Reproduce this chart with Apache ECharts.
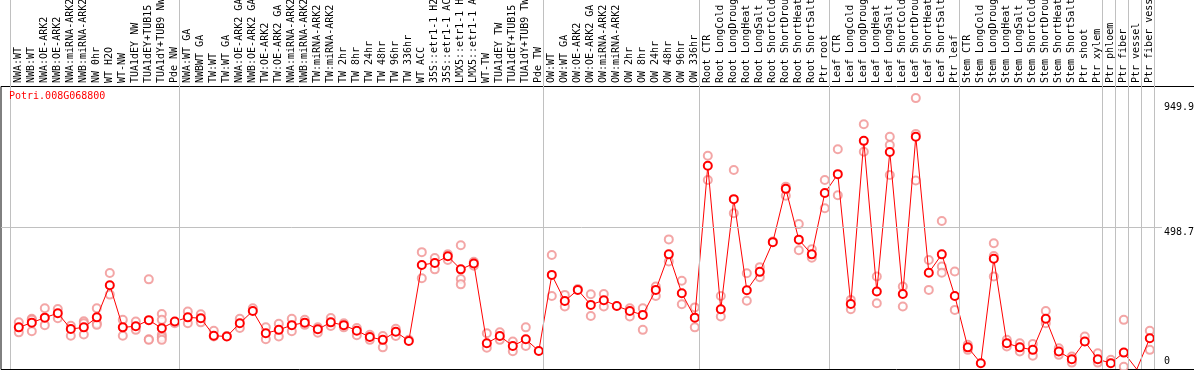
<!DOCTYPE html>
<html>
<head>
<meta charset="utf-8">
<script src="https://cdn.jsdelivr.net/npm/echarts@6/dist/echarts.min.js"></script>
<style>
html,body{margin:0;padding:0;background:#fff;}
#chart{width:1194px;height:370px;}
</style>
</head>
<body>
<div id="chart"></div>
<script>
const geneName = 'Potri.008G068800';

const categories = [
  'NWA:WT','NWB:WT','NWA:OE-ARK2','NWB:OE-ARK2','NWA:miRNA-ARK2','NWB:miRNA-ARK2','NW 0hr','WT H2O','WT-NW','TUA1dEY NW','TUA1dEY+TUB15 NW','TUA1dY+TUB9 NW','Pde NW',
  'NWA:WT GA','NWBWT GA','TW:WT','TW:WT GA','NWA:OE-ARK2 GA','NWB:OE-ARK2 GA','TW:OE-ARK2','TW:OE-ARK2 GA','NWA:miRNA-ARK2 GA','NWB:miRNA-ARK2 GA','TW:miRNA-ARK2','TW:miRNA-ARK2 GA','TW 2hr','TW 8hr','TW 24hr','TW 48hr','TW 96hr','TW 336hr','WT ACC','35S::etr1-1 H2O','35S::etr1-1 ACC','LMX5::etr1-1 H2O','LMX5::etr1-1 ACC','WT-TW','TUA1dEY TW','TUA1dEY+TUB15 TW','TUA1dY+TUB9 TW','Pde TW',
  'OW:WT','OW:WT GA','OW:OE-ARK2','OW:OE-ARK2 GA','OW:miRNA-ARK2','OW:miRNA-ARK2 GA','OW 2hr','OW 8hr','OW 24hr','OW 48hr','OW 96hr','OW 336hr',
  'Root CTR','Root LongCold','Root LongDrought','Root LongHeat','Root LongSalt','Root ShortCold','Root ShortDrought','Root ShortHeat','Root ShortSalt','Ptr root',
  'Leaf CTR','Leaf LongCold','Leaf LongDrought','Leaf LongHeat','Leaf LongSalt','Leaf ShortCold','Leaf ShortDrought','Leaf ShortHeat','Leaf ShortSalt','Ptr leaf',
  'Stem CTR','Stem LongCold','Stem LongDrought','Stem LongHeat','Stem LongSalt','Stem ShortCold','Stem ShortDrought','Stem ShortHeat','Stem ShortSalt','Ptr shoot','Ptr xylem',
  'Ptr phloem','Ptr fiber','Ptr vessel','Ptr fiber vessel'
];

const meanValues = [
  139,156,174,190,133,139,175,291,139,143,165,136,160,
  175,172,109,106,154,198,118,130,147,156,132,157,147,127,104,94,123,90,364,371,395,348,369,82,108,72,96,54,
  328,234,274,220,237,216,198,184,274,402,262,174,
  721,204,601,273,339,446,638,455,402,623,
  691,223,811,268,771,259,826,336,402,252,
  67,10,386,82,67,58,170,52,24,88,24,
  10,48,-12,100
];

const replicateValues = [
  [157,121],[170,166,125],[208,147],[205,172],[145,109],[161,154,113],[208,154,148],[335,257],[166,109],[160,130],[312,96,94],[187,166,112,103,94],[154],
  [196,154],[186,157],[127,106],[108],[170,137],[208],[139,96],[152,106],[170,125],[166,148],[139,120],[173,144],[154,139],[137,111],[112,94],[108,67],[134,108],[94],[410,316],[389,348],[402,382],[435,313,294],[375,361],[118,66],[121,94],[88,53],[139,72],[],
  [400,252],[256,214],[277],[258,180],[259,214],[],[208,178],[208,130],[286,252],[456,376],[307,222],[211,139],
  [757,670],[252,178],[706,550],[334,235],[356,320],[448],[646,613],[511,417],[420,390],[670,568],
  [781,615],[238,204],[871,772],[322,226],[826,796,688],[286,214],[965,836,668],[382,274],[522,358,336],[340,202],
  [76,58],[],[442,396,322],[94,70],[82,52],[79,37],[198,154],[64,40],[34,12],[106],[46,12],
  [22],[166,-3],[],[127,58]
];

const groupBoundaries = [0,13,41,53,63,73,84,85,86,87,88];
const yTopTicks = [498.7, 949.9];
const yBottomTicks = [0];
const gridLineValues = [498.7];
const yMin = -11, yMax = 1005;

const replicatePoints = [];
replicateValues.forEach((reps, i) => reps.forEach(v => replicatePoints.push([i, v])));

const FONT = 'DejaVu Sans Mono';
const chart = echarts.init(document.getElementById('chart'), null, {renderer: 'canvas'});

const option = {
  animation: false,
  backgroundColor: '#ffffff',
  title: {
    text: geneName, left: 9, top: 91, padding: 0,
    textStyle: {fontFamily: FONT, fontSize: 10, fontWeight: 'normal', color: '#ff0000'}
  },
  grid: [
    {left: 1, top: 86.5, right: -20, bottom: 0.5, show: true, borderColor: '#000', borderWidth: 1, backgroundColor: 'transparent', outerBoundsMode: 'none', containLabel: false},
    {left: 10.5, top: 0, right: 39.5, bottom: 1, outerBoundsMode: 'none', containLabel: false},
    {left: 1, top: 87, right: 32, bottom: 1, outerBoundsMode: 'none', containLabel: false},
    {left: 12.3, top: 87, right: 37.7, bottom: 1, outerBoundsMode: 'none', containLabel: false}
  ],
  xAxis: [
    {gridIndex: 0, type: 'value', show: false},
    {gridIndex: 1, type: 'value', min: 0, max: categories.length, show: false},
    {gridIndex: 2, type: 'value', min: 0, max: 1, show: false},
    {gridIndex: 3, type: 'category', position: 'top', data: categories, boundaryGap: true,
     axisLine: {show: false}, axisTick: {show: false}, splitLine: {show: false},
     axisLabel: {interval: 0, rotate: 90, margin: 4, hideOverlap: false, fontFamily: FONT, fontSize: 10, color: '#000'}}
  ],
  yAxis: [
    {gridIndex: 0, type: 'value', show: false},
    {gridIndex: 1, type: 'value', min: 0, max: 1, show: false},
    {gridIndex: 2, type: 'value', min: yMin, max: yMax, position: 'right',
     axisLine: {show: false}, axisTick: {show: false}, splitLine: {show: false},
     axisLabel: {customValues: yTopTicks, verticalAlign: 'top', margin: 2, fontFamily: FONT, fontSize: 10, color: '#000',
                 formatter: v => String(v)}},
    {gridIndex: 2, type: 'value', min: yMin, max: yMax, position: 'right',
     axisLine: {show: false}, axisTick: {show: false}, splitLine: {show: false},
     axisLabel: {customValues: yBottomTicks, verticalAlign: 'bottom', margin: 2, fontFamily: FONT, fontSize: 10, color: '#000',
                 formatter: v => String(v)}},
    {gridIndex: 3, type: 'value', min: yMin, max: yMax, show: false}
  ],
  series: [
    {type: 'scatter', xAxisIndex: 1, yAxisIndex: 1, data: [], silent: true,
     markLine: {silent: true, symbol: ['none','none'], label: {show: false},
       lineStyle: {color: '#c0c0c0', type: 'solid', width: 1},
       data: groupBoundaries.map(b => ({xAxis: b}))}},
    {type: 'scatter', xAxisIndex: 2, yAxisIndex: 2, data: [], silent: true,
     markLine: {silent: true, symbol: ['none','none'], label: {show: false},
       lineStyle: {color: '#c0c0c0', type: 'solid', width: 1},
       data: gridLineValues.map(v => ({yAxis: v}))}},
    {type: 'scatter', xAxisIndex: 3, yAxisIndex: 4, data: replicatePoints, symbol: 'emptyCircle', symbolSize: 8,
     itemStyle: {color: '#f09090', borderColor: '#f09090', borderWidth: 1.2}, silent: true, z: 3},
    {type: 'line', xAxisIndex: 3, yAxisIndex: 4, data: meanValues, symbol: 'emptyCircle', symbolSize: 8,
     showAllSymbol: true, lineStyle: {color: '#ff0000', width: 1},
     itemStyle: {color: '#ff0000', borderColor: '#ff0000', borderWidth: 1.6}, silent: true, z: 4}
  ]
};
chart.setOption(option);
</script>
</body>
</html>
